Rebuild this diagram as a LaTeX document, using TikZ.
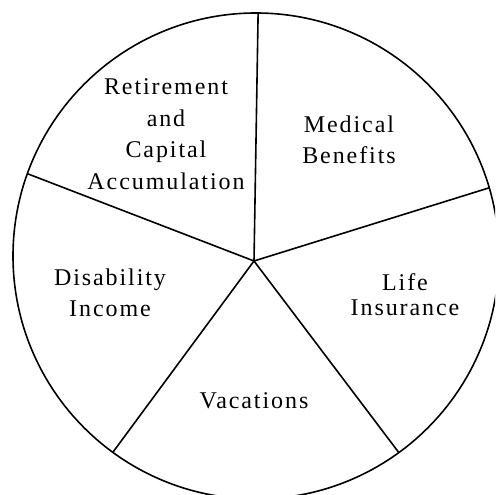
\documentclass[tikz,border=0pt]{standalone}
\usepackage{fontspec}
\setmainfont{Liberation Serif}[LetterSpace=8]
\begin{document}
\begin{tikzpicture}[x=1pt,y=1pt,
  rim/.style={line width=1.6pt},
  spoke/.style={line width=1.6pt},
  label/.style={align=center,inner sep=0pt,
    font=\fontsize{24}{31.5}\selectfont}]
\useasboundingbox (0,0) rectangle (495,495);
\begin{scope}
\clip (0,0) rectangle (495,495);
% outer circle and its centre
\coordinate (c) at (256,239);
\node[draw,rim,circle,minimum size=486pt,inner sep=0pt] (pie) at (c) {};
\end{scope}
% hub where the dividing lines meet
\coordinate (hub) at (254,234);
% ends of the dividing lines on the rim
\coordinate (top)   at ([shift={(89.5:243pt)}]c);
\coordinate (right) at ([shift={(16.3:243pt)}]c);
\coordinate (lr)    at ([shift={(-54:243pt)}]c);
\coordinate (ll)    at ([shift={(-126.1:243pt)}]c);
\coordinate (left)  at ([shift={(160.2:243pt)}]c);
\foreach \p in {top,right,lr,ll,left}
  \draw[spoke] (hub) -- (\p);
% sector labels
\node[label] (ret) at (166,361) {Retirement\\and\\Capital\\Accumulation};
\node[label] (med) at (349,355) {Medical\\Benefits};
\node[label] (dis) at (110,202) {Disability\\Income};
\node[label,font=\fontsize{24}{25}\selectfont] (life) at (405,200) {Life\\Insurance};
\node[label] (vac) at (254,94) {Vacations};
\end{tikzpicture}
\end{document}
